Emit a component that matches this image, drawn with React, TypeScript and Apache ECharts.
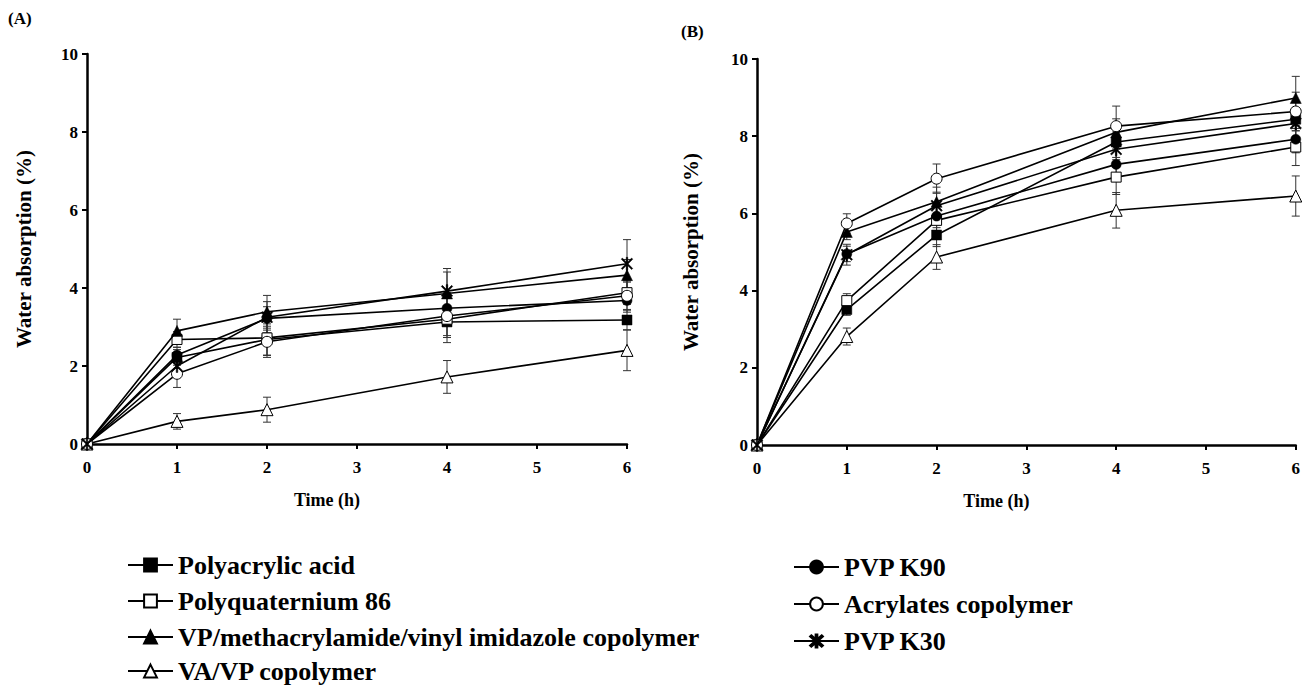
import React, { useEffect, useRef } from "react";
import * as echarts from "echarts";

// ---------- data ----------
const times = [0, 1, 2, 4, 6];
const names = [
  "Polyacrylic acid",
  "Polyquaternium 86",
  "VP/methacrylamide/vinyl imidazole copolymer",
  "VA/VP copolymer",
  "PVP K90",
  "Acrylates copolymer",
  "PVP K30",
];
const legendLeftTop = names.slice(0, 3);
const legendLeftBottom = names.slice(3, 4);
const legendRight = names.slice(4);

// Panel A (mean)
const aPolyacrylic = [0, 2.22, 2.68, 3.13, 3.18];
const aPolyquat = [0, 2.68, 2.72, 3.2, 3.88];
const aVpMaVi = [0, 2.9, 3.39, 3.86, 4.33];
const aVaVp = [0, 0.58, 0.88, 1.72, 2.4];
const aPvpK90 = [0, 2.28, 3.22, 3.48, 3.68];
const aAcrylates = [0, 1.8, 2.62, 3.28, 3.8];
const aPvpK30 = [0, 2.0, 3.25, 3.92, 4.62];
// Panel A (SD)
const aPolyacrylicSd = [0, 0.2, 0.4, 0.4, 0.25];
const aPolyquatSd = [0, 0.2, 0.45, 0.6, 0.3];
const aVpMaViSd = [0, 0.3, 0.42, 0.55, 0.4];
const aVaVpSd = [0, 0.2, 0.32, 0.42, 0.52];
const aPvpK90Sd = [0, 0.2, 0.3, 0.4, 0.3];
const aAcrylatesSd = [0, 0.35, 0.4, 0.5, 0.35];
const aPvpK30Sd = [0, 0.25, 0.4, 0.58, 0.62];

// Panel B (mean)
const bPolyacrylic = [0, 3.51, 5.44, 7.85, 8.44];
const bPolyquat = [0, 3.74, 5.82, 6.94, 7.72];
const bVpMaVi = [0, 5.52, 6.3, 8.1, 8.99];
const bVaVp = [0, 2.81, 4.87, 6.08, 6.45];
const bPvpK90 = [0, 4.95, 5.93, 7.27, 7.92];
const bAcrylates = [0, 5.74, 6.9, 8.26, 8.64];
const bPvpK30 = [0, 4.93, 6.2, 7.66, 8.33];
// Panel B (SD)
const bPolyacrylicSd = [0, 0.15, 0.3, 0.4, 0.3];
const bPolyquatSd = [0, 0.18, 0.35, 0.45, 0.48];
const bVpMaViSd = [0, 0.2, 0.38, 0.35, 0.56];
const bVaVpSd = [0, 0.22, 0.32, 0.46, 0.52];
const bPvpK90Sd = [0, 0.2, 0.3, 0.4, 0.35];
const bAcrylatesSd = [0, 0.25, 0.38, 0.52, 0.5];
const bPvpK30Sd = [0, 0.27, 0.35, 0.45, 0.4];

const panelA = [aPolyacrylic, aPolyquat, aVpMaVi, aVaVp, aPvpK90, aAcrylates, aPvpK30];
const panelASd = [aPolyacrylicSd, aPolyquatSd, aVpMaViSd, aVaVpSd, aPvpK90Sd, aAcrylatesSd, aPvpK30Sd];
const panelB = [bPolyacrylic, bPolyquat, bVpMaVi, bVaVp, bPvpK90, bAcrylates, bPvpK30];
const panelBSd = [bPolyacrylicSd, bPolyquatSd, bVpMaViSd, bVaVpSd, bPvpK90Sd, bAcrylatesSd, bPvpK30Sd];

// ---------- styles ----------
const FONT = "'Liberation Serif', 'Times New Roman', serif";
const ASTERISK =
  "path://M-1.2,-10L1.2,-10L1.2,10L-1.2,10Z" +
  "M-7.15,-8.85L8.85,7.15L7.15,8.85L-8.85,-7.15Z" +
  "M7.15,-8.85L8.85,-7.15L-7.15,8.85L-8.85,7.15Z";
const markers = [
  { symbol: "rect", fill: "#000", size: 10 },
  { symbol: "rect", fill: "#fff", size: 10 },
  { symbol: "triangle", fill: "#000", size: 11 },
  { symbol: "triangle", fill: "#fff", size: 12 },
  { symbol: "circle", fill: "#000", size: 10 },
  { symbol: "circle", fill: "#fff", size: 11 },
  { symbol: ASTERISK, fill: "#000", size: 13 },
];

function makeAxes(gridIndex: number) {
  const axisLine = { show: true, lineStyle: { color: "#000", width: 2.5 } };
  const axisTick = { show: true, inside: false, length: 5, lineStyle: { color: "#000", width: 2 } };
  const axisLabel = { color: "#000", fontFamily: FONT, fontWeight: "bold", fontSize: 17 };
  const x = {
    type: "value",
    gridIndex,
    min: 0,
    max: 6,
    interval: 1,
    axisLine,
    axisTick,
    axisLabel: { ...axisLabel, margin: 15 },
    splitLine: { show: false },
    name: "Time (h)",
    nameLocation: "middle",
    nameGap: 47,
    nameTextStyle: {
      color: "#000",
      fontFamily: FONT,
      fontWeight: "bold",
      fontSize: 18,
      padding: [0, 60, 0, 0],
    },
  };
  const y = {
    type: "value",
    gridIndex,
    min: 0,
    max: 10,
    interval: 2,
    axisLine,
    axisTick,
    axisLabel: { ...axisLabel, margin: 9 },
    splitLine: { show: false },
    name: "Water absorption (%)",
    nameLocation: "middle",
    nameGap: gridIndex === 0 ? 53 : 56,
    nameTextStyle: { color: "#000", fontFamily: FONT, fontWeight: "bold", fontSize: 21 },
  };
  return { x, y };
}

function buildSeries(panel: number[][], sds: number[][], axisIndex: number) {
  const out: any[] = [];
  panel.forEach((vals, i) => {
    const sd = sds[i];
    const errData = times
      .map((t, k) => [t, vals[k] - sd[k], vals[k] + sd[k]])
      .filter((_, k) => sd[k] > 0);
    out.push({
      type: "custom",
      name: `err-${axisIndex}-${i}`,
      xAxisIndex: axisIndex,
      yAxisIndex: axisIndex,
      coordinateSystem: "cartesian2d",
      encode: { x: 0, y: [1, 2] },
      z: 1,
      silent: true,
      data: errData,
      renderItem: (params: any, api: any) => {
        const x = api.value(0);
        const top = api.coord([x, api.value(2)]);
        const bot = api.coord([x, api.value(1)]);
        const w = 4;
        const st = { stroke: "#333", lineWidth: 1 };
        return {
          type: "group",
          children: [
            { type: "line", shape: { x1: top[0], y1: top[1], x2: bot[0], y2: bot[1] }, style: st },
            { type: "line", shape: { x1: top[0] - w, y1: top[1], x2: top[0] + w, y2: top[1] }, style: st },
            { type: "line", shape: { x1: bot[0] - w, y1: bot[1], x2: bot[0] + w, y2: bot[1] }, style: st },
          ],
        };
      },
    });
  });
  panel.forEach((vals, i) => {
    const m = markers[i];
    out.push({
      type: "line",
      name: names[i],
      xAxisIndex: axisIndex,
      yAxisIndex: axisIndex,
      data: times.map((t, k) => [t, vals[k]]),
      symbol: m.symbol,
      symbolSize: m.size,
      symbolKeepAspect: true,
      showAllSymbol: true,
      z: 3 + i,
      lineStyle: { color: "#000", width: 1.6 },
      itemStyle: { color: m.fill, borderColor: "#000", borderWidth: m.fill === "#fff" ? 1 : 0.5 },
      emphasis: { disabled: true },
    });
  });
  return out;
}

export default function App() {
  const ref = useRef<HTMLDivElement>(null);
  useEffect(() => {
    if (!ref.current) return;
    const chart = echarts.init(ref.current, undefined, { renderer: "svg" });
    const A = makeAxes(0);
    const B = makeAxes(1);
    const legendText = { color: "#000", fontFamily: FONT, fontWeight: "bold", fontSize: 26, lineHeight: 26 };
    const legendBase = {
      orient: "vertical",
      itemWidth: 45,
      itemHeight: 16,
      itemGap: 10,
      padding: 0,
      selectedMode: false,
      textStyle: legendText,
    };
    chart.setOption({
      animation: false,
      backgroundColor: "#fff",
      grid: [
        { left: 87, top: 54, width: 540, height: 390 },
        { left: 757, top: 59, width: 539, height: 386 },
      ],
      xAxis: [A.x, B.x],
      yAxis: [A.y, B.y],
      legend: [
        { ...legendBase, data: legendLeftTop, left: 127, top: 552 },
        { ...legendBase, data: legendLeftBottom, left: 127, top: 658 },
        { ...legendBase, data: legendRight, left: 793, top: 554, itemGap: 11 },
      ],
      graphic: [
        {
          type: "text",
          left: 8,
          top: 10,
          style: { text: "(A)", fill: "#000", font: `bold 17px ${FONT}` },
        },
        {
          type: "text",
          left: 681,
          top: 23,
          style: { text: "(B)", fill: "#000", font: `bold 17px ${FONT}` },
        },
      ],
      series: [...buildSeries(panelA, panelASd, 0), ...buildSeries(panelB, panelBSd, 1)],
    });
    return () => chart.dispose();
  }, []);
  return (
    <div
      ref={ref}
      style={{ position: "absolute", left: 0, top: 0, width: 1303, height: 688, background: "#fff" }}
    />
  );
}
